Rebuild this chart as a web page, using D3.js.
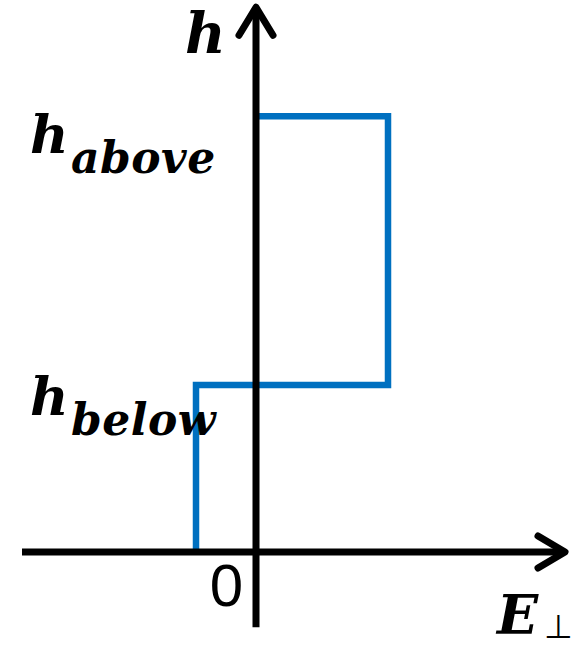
<!DOCTYPE html>
<html>
<head>
<meta charset="utf-8">
<script src="https://cdn.jsdelivr.net/npm/d3@7"></script>
<style>
  html, body { margin: 0; padding: 0; background: #fff; }
  svg { display: block; }
</style>
</head>
<body>
<script>
// Step profile of h against the perpendicular field E⊥
const stepE = [-1, -1, 2.2, 2.2, 0];
const stepH = [0, 1, 1, 2.61, 2.61];

// Named levels shown on the h axis
const levelNames = ["above", "below"];
const levelValues = [2.61, 1];

// Axis extents (in data units) and tick label at the origin
const xExtent = [-3.9, 5.2];
const yExtent = [-0.45, 3.28];
const originLabel = "0";

const W = 582, H = 647;
const svg = d3.select("body").append("svg").attr("width", W).attr("height", H);

const x = d3.scaleLinear().domain([0, 1]).range([256, 316]);
const y = d3.scaleLinear().domain([0, 1]).range([552, 385]);

const blue = "#0070c0";
const lw = 7;

// Step curve
const pts = stepE.map((e, i) => [x(e), y(stepH[i])]);
svg.append("path")
  .attr("d", d3.line()(pts))
  .attr("fill", "none")
  .attr("stroke", blue)
  .attr("stroke-width", 6.5)
  .attr("stroke-linejoin", "miter");

// Axes with open chevron arrowheads
const axisG = svg.append("g").attr("stroke", "#000").attr("fill", "none")
  .attr("stroke-width", lw);

const x0 = x(xExtent[0]), x1 = x(xExtent[1]);
const y0 = y(yExtent[0]), y1 = y(yExtent[1]);

axisG.append("line").attr("x1", x0).attr("x2", x1 - 3)
  .attr("y1", y(0)).attr("y2", y(0));
axisG.append("path")
  .attr("d", d3.line()([[x1 - 30, y(0) - 16], [x1 - 3, y(0)], [x1 - 30, y(0) + 16]]))
  .attr("stroke-linejoin", "round").attr("stroke-linecap", "round");

axisG.append("line").attr("x1", x(0)).attr("x2", x(0))
  .attr("y1", y0).attr("y2", y1 + 3);
axisG.append("path")
  .attr("d", d3.line()([[x(0) - 17, y1 + 31], [x(0), y1 + 3], [x(0) + 17, y1 + 31]]))
  .attr("stroke-linejoin", "round").attr("stroke-linecap", "round");

// Text
const serif = "'DejaVu Serif', 'Liberation Serif', serif";
function mathText(sel) {
  return sel.attr("font-family", serif).attr("font-weight", "bold")
    .attr("font-style", "italic");
}

// h axis title
mathText(svg.append("text"))
  .attr("x", 185).attr("y", 53)
  .attr("font-size", 56)
  .text("h");

// Level labels h_above, h_below
const levelOffsets = [37, 30];
levelNames.forEach((name, i) => {
  const base = y(levelValues[i]) + levelOffsets[i];
  const t = mathText(svg.append("text")).attr("font-size", 53);
  t.append("tspan").attr("x", 30).attr("y", base).text("h");
  t.append("tspan").attr("x", 71).attr("y", base + 20)
    .attr("font-size", 44).attr("letter-spacing", 0.5).text(name);
});

// Origin label
svg.append("text")
  .attr("x", x(0) - 13).attr("y", 606)
  .attr("text-anchor", "end")
  .attr("font-family", "'Liberation Sans', Arial, sans-serif")
  .attr("font-size", 60)
  .text(originLabel);

// E⊥ axis title
const et = mathText(svg.append("text")).attr("font-size", 54);
et.append("tspan").attr("x", 497).attr("y", 634).text("E");
et.append("tspan").attr("x", 544).attr("y", 638)
  .attr("font-family", "'DejaVu Sans', sans-serif").attr("font-weight", "normal")
  .attr("font-style", "normal").attr("font-size", 33).text("⊥");
</script>
</body>
</html>
